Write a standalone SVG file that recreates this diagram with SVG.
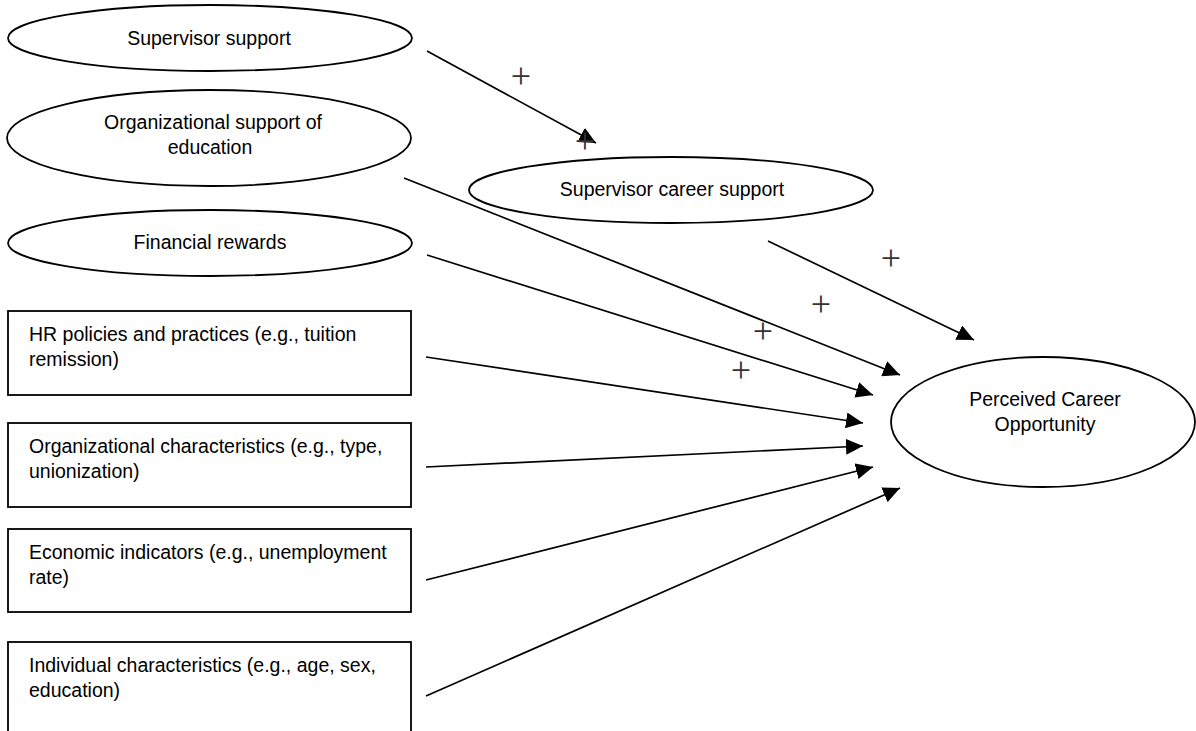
<svg xmlns="http://www.w3.org/2000/svg" width="1196" height="731" viewBox="0 0 1196 731">
<style>
.shape{fill:#fff;stroke:#000;stroke-width:1.8}
.lbl{font-family:"Liberation Sans",Arial,sans-serif;font-size:19.5px;fill:#000}
.c{text-anchor:middle}
.conn line{stroke:#000;stroke-width:1.7;marker-end:url(#ah)}
.plus{font-family:"Liberation Serif","Times New Roman",serif;font-size:36px;fill:#333;text-anchor:middle}
</style>
<defs>
<marker id="ah" markerUnits="userSpaceOnUse" markerWidth="18" markerHeight="16" viewBox="0 0 18 16" refX="17" refY="8" orient="auto">
<path d="M0,0 L17,8 L0,16 Z" fill="#000"/>
</marker>
</defs>
<rect width="1196" height="731" fill="#fff"/>
<g id="supervisor-support">
<ellipse class="shape" cx="210" cy="38" rx="202" ry="33"/>
<text class="lbl c" x="209" y="45">Supervisor support</text>
</g>
<g id="org-support-education">
<ellipse class="shape" cx="209" cy="138" rx="202" ry="48"/>
<text class="lbl c" x="213" y="129">Organizational support of</text>
<text class="lbl c" x="210" y="154">education</text>
</g>
<g id="financial-rewards">
<ellipse class="shape" cx="210" cy="243" rx="202" ry="33"/>
<text class="lbl c" x="210" y="249">Financial rewards</text>
</g>
<g id="hr-policies">
<rect class="shape" x="8" y="311" width="403" height="84"/>
<text class="lbl" x="29" y="341">HR policies and practices (e.g., tuition</text>
<text class="lbl" x="29" y="366">remission)</text>
</g>
<g id="org-characteristics">
<rect class="shape" x="8" y="423" width="403" height="84"/>
<text class="lbl" x="29" y="453">Organizational characteristics (e.g., type,</text>
<text class="lbl" x="29" y="478">unionization)</text>
</g>
<g id="economic-indicators">
<rect class="shape" x="8" y="529" width="403" height="83"/>
<text class="lbl" x="29" y="559">Economic indicators (e.g., unemployment</text>
<text class="lbl" x="29" y="584">rate)</text>
</g>
<g id="individual-characteristics">
<rect class="shape" x="8" y="642" width="403" height="100"/>
<text class="lbl" x="29" y="672">Individual characteristics (e.g., age, sex,</text>
<text class="lbl" x="29" y="697">education)</text>
</g>
<g id="supervisor-career-support">
<ellipse class="shape" cx="671" cy="190" rx="202" ry="33"/>
<text class="lbl c" x="672" y="196">Supervisor career support</text>
</g>
<g id="perceived-career-opportunity">
<ellipse class="shape" cx="1043" cy="422" rx="152" ry="65"/>
<text class="lbl c" x="1045" y="406">Perceived Career</text>
<text class="lbl c" x="1045" y="431">Opportunity</text>
</g>
<g id="connectors" class="conn">
<line x1="427" y1="51" x2="596" y2="143"/>
<line x1="404" y1="178" x2="900" y2="375"/>
<line x1="427" y1="255" x2="873" y2="395"/>
<line x1="426" y1="357" x2="863" y2="423"/>
<line x1="426" y1="467" x2="863" y2="446"/>
<line x1="426" y1="580" x2="873" y2="467"/>
<line x1="426" y1="696" x2="900" y2="488"/>
<line x1="768" y1="241" x2="974" y2="340"/>
</g>
<g id="signs">
<text class="plus" x="521" y="88">+</text>
<text class="plus" x="585" y="153">+</text>
<text class="plus" x="891" y="270">+</text>
<text class="plus" x="821" y="316">+</text>
<text class="plus" x="763" y="343">+</text>
<text class="plus" x="741" y="382">+</text>
</g>
</svg>
